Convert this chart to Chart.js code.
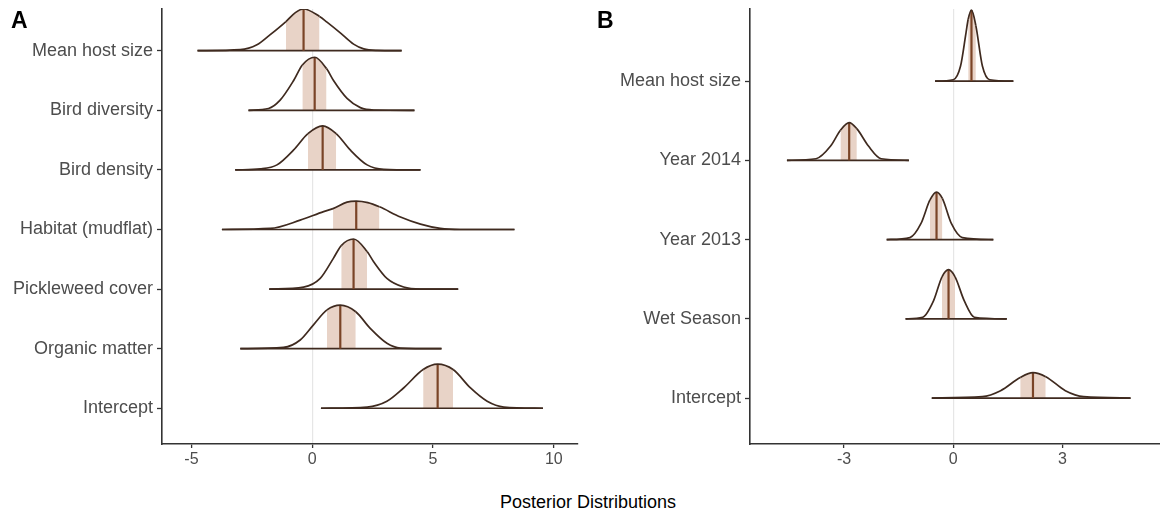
<!DOCTYPE html>
<html>
<head>
<meta charset="utf-8">
<script src="https://cdn.jsdelivr.net/npm/chart.js@4.4.1/dist/chart.umd.min.js"></script>
<style>
html, body { margin: 0; padding: 0; background: #fff; }
body { width: 1160px; height: 514px; position: relative; overflow: hidden; font-family: 'Liberation Sans', Arial, sans-serif; }
.panel { position: absolute; top: 0; }
.tag { position: absolute; font-weight: bold; font-size: 23px; line-height: 23px; color: #000; }
#xtitle { position: absolute; left: 388px; width: 400px; top: 493px; text-align: center; font-size: 18px; line-height: 18px; color: #000; }
</style>
</head>
<body>
<div class="panel" style="left:0;"><canvas id="chartA" width="590" height="474"></canvas></div>
<div class="panel" style="left:590px;"><canvas id="chartB" width="570" height="474"></canvas></div>
<div class="tag" style="left:11px;top:8.5px;">A</div>
<div class="tag" style="left:597px;top:8.5px;">B</div>
<div id="xtitle">Posterior Distributions</div>

<script>
// --- Panel A: rows listed top to bottom ---
const catsA = ['Mean host size', 'Bird diversity', 'Bird density', 'Habitat (mudflat)', 'Pickleweed cover', 'Organic matter', 'Intercept'];
const medA = [-0.36, 0.10, 0.43, 1.82, 1.71, 1.16, 5.19];
const loA = [-1.09, -0.41, -0.18, 0.86, 1.20, 0.61, 4.59];
const hiA = [0.30, 0.59, 0.99, 2.78, 2.27, 1.80, 5.83];
// density curves: x positions and heights (in row units)
const xsA = [
    [-4.75, -2.98, -2.29, -1.74, -1.09, -0.70, -0.36, 0.30, 0.61, 1.16, 1.71, 2.13, 2.68, 3.70],
    [-2.64, -1.81, -1.33, -0.77, -0.41, 0.10, 0.59, 0.88, 1.44, 1.99, 2.54, 4.23],
    [-3.19, -2.15, -1.46, -0.77, -0.18, 0.43, 0.99, 1.57, 2.27, 2.96, 4.48],
    [-3.74, -1.74, -0.50, 0.47, 0.86, 1.44, 1.82, 2.30, 2.78, 3.65, 4.48, 5.30, 6.13, 8.37],
    [-1.78, -0.36, 0.33, 0.88, 1.20, 1.71, 2.27, 2.54, 3.09, 3.78, 4.48, 6.04],
    [-2.98, -1.19, -0.50, 0.05, 0.61, 1.16, 1.80, 2.40, 3.09, 3.65, 5.35],
    [0.36, 2.27, 3.09, 3.78, 4.59, 5.19, 5.83, 6.55, 7.24, 7.93, 9.55]
];
const hsA = [
    [0, 0.017, 0.10, 0.27, 0.49, 0.64, 0.70, 0.575, 0.48, 0.30, 0.11, 0.03, 0.005, 0],
    [0, 0.03, 0.17, 0.50, 0.76, 0.89, 0.70, 0.50, 0.20, 0.045, 0.005, 0],
    [0, 0.017, 0.084, 0.335, 0.61, 0.74, 0.61, 0.335, 0.084, 0.01, 0],
    [0, 0.017, 0.156, 0.30, 0.35, 0.46, 0.475, 0.45, 0.38, 0.21, 0.09, 0.017, 0, 0],
    [0, 0.034, 0.18, 0.52, 0.73, 0.84, 0.63, 0.46, 0.18, 0.034, 0, 0],
    [0, 0.02, 0.145, 0.40, 0.65, 0.73, 0.62, 0.34, 0.09, 0.01, 0],
    [0, 0.02, 0.117, 0.34, 0.65, 0.74, 0.65, 0.34, 0.117, 0.02, 0]
];
const xTicksA = [-5, 0, 5, 10];

// --- Panel B ---
const catsB = ['Mean host size', 'Year 2014', 'Year 2013', 'Wet Season', 'Intercept'];
const medB = [0.50, -2.86, -0.46, -0.13, 2.19];
const loB = [0.41, -3.10, -0.64, -0.31, 1.84];
const hiB = [0.62, -2.65, -0.30, 0.05, 2.54];
const xsB = [
    [-0.50, 0.0, 0.20, 0.35, 0.41, 0.50, 0.62, 0.80, 1.0, 1.65],
    [-4.57, -3.77, -3.37, -3.10, -2.86, -2.65, -2.33, -1.98, -1.22],
    [-1.83, -1.19, -0.89, -0.64, -0.46, -0.30, -0.05, 0.25, 1.10],
    [-1.31, -0.84, -0.54, -0.31, -0.13, 0.05, 0.30, 0.58, 1.47],
    [-0.59, 0.80, 1.30, 1.84, 2.19, 2.54, 3.08, 3.58, 4.87]
];
const hsB = [
    [0, 0.017, 0.19, 0.61, 0.78, 0.895, 0.70, 0.19, 0.017, 0],
    [0, 0.02, 0.18, 0.38, 0.477, 0.40, 0.18, 0.02, 0],
    [0, 0.025, 0.20, 0.50, 0.60, 0.52, 0.20, 0.025, 0],
    [0, 0.02, 0.23, 0.53, 0.62, 0.53, 0.23, 0.02, 0],
    [0, 0.017, 0.093, 0.26, 0.32, 0.27, 0.093, 0.017, 0]
];
const xTicksB = [-3, 0, 3];

const LINE = '#3f2a1f';
const MED = '#7a4427';
const SHADE = '#e8d3c7';
const AXIS = '#333333';
const TEXT = '#4d4d4d';
const FONT = "'Liberation Sans', Arial, sans-serif";

// drop the extra room Chart.js reserves for edge tick labels
function noPad(s) {
    s.paddingTop = 0; s.paddingBottom = 0; s.paddingLeft = 0; s.paddingRight = 0;
}

function buildPanel(id, cats, xs, hs, lo, hi, med, xRange, yRange, xTicks, yWidth, padRight) {
    const n = cats.length;
    const datasets = [];
    cats.forEach((c, i) => {
        const base = n - i;
        const k = xs[i].indexOf(med[i]);
        // density outline, shaded between the interval bounds
        datasets.push({
            data: xs[i].map((x, j) => ({ x: x, y: base + hs[i][j] })),
            borderColor: LINE,
            borderWidth: 1.7,
            backgroundColor: 'rgba(0,0,0,0)',
            fill: { value: base },
            cubicInterpolationMode: 'monotone',
            pointRadius: 0,
            order: 0,
            segment: {
                backgroundColor: s => (xs[i][s.p0DataIndex] >= lo[i] && xs[i][s.p1DataIndex] <= hi[i]) ? SHADE : undefined
            }
        });
        // median
        datasets.push({
            data: [{ x: med[i], y: base }, { x: med[i], y: base + hs[i][k] }],
            borderColor: MED,
            borderWidth: 2.2,
            pointRadius: 0,
            fill: false,
            order: 1
        });
        // baseline
        datasets.push({
            data: [{ x: xs[i][0], y: base }, { x: xs[i][xs[i].length - 1], y: base }],
            borderColor: LINE,
            borderWidth: 1.7,
            pointRadius: 0,
            fill: false,
            order: 2
        });
    });

    return new Chart(document.getElementById(id), {
        type: 'line',
        data: { datasets: datasets },
        options: {
            responsive: false,
            animation: false,
            events: [],
            layout: { padding: { left: 0, right: padRight, top: 9, bottom: 0 } },
            plugins: {
                legend: { display: false },
                tooltip: { enabled: false },
                filler: { drawTime: 'beforeDatasetsDraw' }
            },
            scales: {
                x: {
                    type: 'linear',
                    min: xRange[0],
                    max: xRange[1],
                    afterBuildTicks: s => { s.ticks = xTicks.map(v => ({ value: v })); },
                    afterFit: s => { s.height = 30; noPad(s); },
                    ticks: { color: TEXT, font: { family: FONT, size: 16 }, padding: 2 },
                    grid: {
                        color: c => (c.tick && c.tick.value === 0) ? '#e6e6e6' : 'rgba(0,0,0,0)',
                        lineWidth: 1.2,
                        tickColor: AXIS,
                        tickLength: 4,
                        tickWidth: 1.3
                    },
                    border: { display: true, color: AXIS, width: 1.6 }
                },
                y: {
                    type: 'linear',
                    min: yRange[0],
                    max: yRange[1],
                    afterBuildTicks: s => { s.ticks = cats.map((c, i) => ({ value: n - i })); },
                    afterFit: s => { s.width = yWidth; noPad(s); },
                    ticks: {
                        color: TEXT,
                        font: { family: FONT, size: 18 },
                        padding: 4,
                        callback: v => cats[n - v]
                    },
                    grid: { drawOnChartArea: false, tickColor: AXIS, tickLength: 5, tickWidth: 1.3 },
                    border: { display: true, color: AXIS, width: 1.6 }
                }
            }
        }
    });
}

buildPanel('chartA', catsA, xsA, hsA, loA, hiA, medA, [-6.22, 11.0], [0.4, 7.7], xTicksA, 162, 12);
buildPanel('chartB', catsB, xsB, hsB, loB, hiB, medB, [-5.585, 5.68], [0.42, 5.91], xTicksB, 160, 0);
</script>
</body>
</html>
